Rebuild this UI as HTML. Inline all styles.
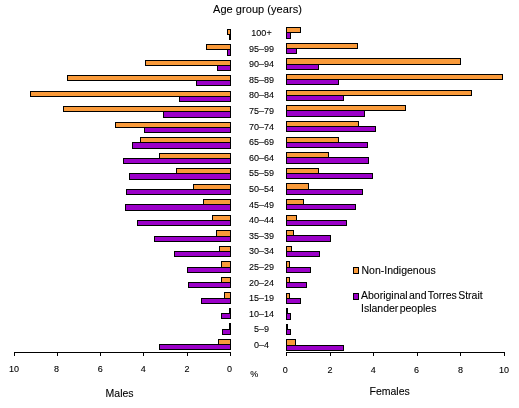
<!DOCTYPE html>
<html><head><meta charset="utf-8"><style>
html,body{margin:0;padding:0;background:#fff;width:519px;height:408px;overflow:hidden}
svg{display:block}
text{font-family:"Liberation Sans",sans-serif;fill:#000;stroke:#000;stroke-width:0.1px}
.s{font-size:9px}
.m{font-size:10.5px}
.w{word-spacing:-1.6px}
.t{font-size:11px;letter-spacing:0.05px}
</style></head><body>
<svg width="519" height="408" viewBox="0 0 519 408" shape-rendering="crispEdges">
<rect x="227.5" y="29.5" width="3" height="5" fill="#F99A3A" stroke="#000"/>
<rect x="229.5" y="34.5" width="1" height="5" fill="#9B00C8" stroke="#000"/>
<rect x="286.5" y="27.5" width="14" height="5" fill="#F99A3A" stroke="#000"/>
<rect x="286.5" y="32.5" width="4" height="6" fill="#9B00C8" stroke="#000"/>
<rect x="206.5" y="44.5" width="24" height="5" fill="#F99A3A" stroke="#000"/>
<rect x="227.5" y="49.5" width="3" height="6" fill="#9B00C8" stroke="#000"/>
<rect x="286.5" y="43.5" width="71" height="5" fill="#F99A3A" stroke="#000"/>
<rect x="286.5" y="48.5" width="10" height="5" fill="#9B00C8" stroke="#000"/>
<rect x="145.5" y="60.5" width="85" height="5" fill="#F99A3A" stroke="#000"/>
<rect x="217.5" y="65.5" width="13" height="5" fill="#9B00C8" stroke="#000"/>
<rect x="286.5" y="58.5" width="174" height="6" fill="#F99A3A" stroke="#000"/>
<rect x="286.5" y="64.5" width="32" height="5" fill="#9B00C8" stroke="#000"/>
<rect x="67.5" y="75.5" width="163" height="5" fill="#F99A3A" stroke="#000"/>
<rect x="196.5" y="80.5" width="34" height="5" fill="#9B00C8" stroke="#000"/>
<rect x="286.5" y="74.5" width="216" height="5" fill="#F99A3A" stroke="#000"/>
<rect x="286.5" y="79.5" width="52" height="5" fill="#9B00C8" stroke="#000"/>
<rect x="30.5" y="91.5" width="200" height="5" fill="#F99A3A" stroke="#000"/>
<rect x="179.5" y="96.5" width="51" height="5" fill="#9B00C8" stroke="#000"/>
<rect x="286.5" y="90.5" width="185" height="5" fill="#F99A3A" stroke="#000"/>
<rect x="286.5" y="95.5" width="57" height="5" fill="#9B00C8" stroke="#000"/>
<rect x="63.5" y="106.5" width="167" height="5" fill="#F99A3A" stroke="#000"/>
<rect x="163.5" y="111.5" width="67" height="6" fill="#9B00C8" stroke="#000"/>
<rect x="286.5" y="105.5" width="119" height="5" fill="#F99A3A" stroke="#000"/>
<rect x="286.5" y="110.5" width="78" height="6" fill="#9B00C8" stroke="#000"/>
<rect x="115.5" y="122.5" width="115" height="5" fill="#F99A3A" stroke="#000"/>
<rect x="144.5" y="127.5" width="86" height="5" fill="#9B00C8" stroke="#000"/>
<rect x="286.5" y="121.5" width="72" height="5" fill="#F99A3A" stroke="#000"/>
<rect x="286.5" y="126.5" width="89" height="5" fill="#9B00C8" stroke="#000"/>
<rect x="140.5" y="137.5" width="90" height="5" fill="#F99A3A" stroke="#000"/>
<rect x="132.5" y="142.5" width="98" height="6" fill="#9B00C8" stroke="#000"/>
<rect x="286.5" y="137.5" width="52" height="5" fill="#F99A3A" stroke="#000"/>
<rect x="286.5" y="142.5" width="81" height="5" fill="#9B00C8" stroke="#000"/>
<rect x="159.5" y="153.5" width="71" height="5" fill="#F99A3A" stroke="#000"/>
<rect x="123.5" y="158.5" width="107" height="5" fill="#9B00C8" stroke="#000"/>
<rect x="286.5" y="152.5" width="42" height="5" fill="#F99A3A" stroke="#000"/>
<rect x="286.5" y="157.5" width="82" height="6" fill="#9B00C8" stroke="#000"/>
<rect x="176.5" y="168.5" width="54" height="5" fill="#F99A3A" stroke="#000"/>
<rect x="129.5" y="173.5" width="101" height="6" fill="#9B00C8" stroke="#000"/>
<rect x="286.5" y="168.5" width="32" height="5" fill="#F99A3A" stroke="#000"/>
<rect x="286.5" y="173.5" width="86" height="5" fill="#9B00C8" stroke="#000"/>
<rect x="193.5" y="184.5" width="37" height="5" fill="#F99A3A" stroke="#000"/>
<rect x="126.5" y="189.5" width="104" height="5" fill="#9B00C8" stroke="#000"/>
<rect x="286.5" y="183.5" width="22" height="6" fill="#F99A3A" stroke="#000"/>
<rect x="286.5" y="189.5" width="76" height="5" fill="#9B00C8" stroke="#000"/>
<rect x="203.5" y="199.5" width="27" height="5" fill="#F99A3A" stroke="#000"/>
<rect x="125.5" y="204.5" width="105" height="6" fill="#9B00C8" stroke="#000"/>
<rect x="286.5" y="199.5" width="17" height="5" fill="#F99A3A" stroke="#000"/>
<rect x="286.5" y="204.5" width="69" height="5" fill="#9B00C8" stroke="#000"/>
<rect x="212.5" y="215.5" width="18" height="5" fill="#F99A3A" stroke="#000"/>
<rect x="137.5" y="220.5" width="93" height="5" fill="#9B00C8" stroke="#000"/>
<rect x="286.5" y="215.5" width="10" height="5" fill="#F99A3A" stroke="#000"/>
<rect x="286.5" y="220.5" width="60" height="5" fill="#9B00C8" stroke="#000"/>
<rect x="216.5" y="230.5" width="14" height="6" fill="#F99A3A" stroke="#000"/>
<rect x="154.5" y="236.5" width="76" height="5" fill="#9B00C8" stroke="#000"/>
<rect x="286.5" y="230.5" width="7" height="5" fill="#F99A3A" stroke="#000"/>
<rect x="286.5" y="235.5" width="44" height="6" fill="#9B00C8" stroke="#000"/>
<rect x="219.5" y="246.5" width="11" height="5" fill="#F99A3A" stroke="#000"/>
<rect x="174.5" y="251.5" width="56" height="5" fill="#9B00C8" stroke="#000"/>
<rect x="286.5" y="246.5" width="5" height="5" fill="#F99A3A" stroke="#000"/>
<rect x="286.5" y="251.5" width="33" height="5" fill="#9B00C8" stroke="#000"/>
<rect x="221.5" y="261.5" width="9" height="6" fill="#F99A3A" stroke="#000"/>
<rect x="187.5" y="267.5" width="43" height="5" fill="#9B00C8" stroke="#000"/>
<rect x="286.5" y="261.5" width="3" height="6" fill="#F99A3A" stroke="#000"/>
<rect x="286.5" y="267.5" width="24" height="5" fill="#9B00C8" stroke="#000"/>
<rect x="221.5" y="277.5" width="9" height="5" fill="#F99A3A" stroke="#000"/>
<rect x="188.5" y="282.5" width="42" height="5" fill="#9B00C8" stroke="#000"/>
<rect x="286.5" y="277.5" width="3" height="5" fill="#F99A3A" stroke="#000"/>
<rect x="286.5" y="282.5" width="20" height="5" fill="#9B00C8" stroke="#000"/>
<rect x="224.5" y="292.5" width="6" height="6" fill="#F99A3A" stroke="#000"/>
<rect x="201.5" y="298.5" width="29" height="5" fill="#9B00C8" stroke="#000"/>
<rect x="286.5" y="293.5" width="3" height="5" fill="#F99A3A" stroke="#000"/>
<rect x="286.5" y="298.5" width="14" height="5" fill="#9B00C8" stroke="#000"/>
<rect x="229.5" y="308.5" width="1" height="5" fill="#F99A3A" stroke="#000"/>
<rect x="221.5" y="313.5" width="9" height="5" fill="#9B00C8" stroke="#000"/>
<rect x="286.5" y="308.5" width="1" height="5" fill="#F99A3A" stroke="#000"/>
<rect x="286.5" y="313.5" width="4" height="6" fill="#9B00C8" stroke="#000"/>
<rect x="229.5" y="323.5" width="1" height="6" fill="#F99A3A" stroke="#000"/>
<rect x="222.5" y="329.5" width="8" height="5" fill="#9B00C8" stroke="#000"/>
<rect x="286.5" y="324.5" width="1" height="5" fill="#F99A3A" stroke="#000"/>
<rect x="286.5" y="329.5" width="4" height="5" fill="#9B00C8" stroke="#000"/>
<rect x="218.5" y="339.5" width="12" height="5" fill="#F99A3A" stroke="#000"/>
<rect x="159.5" y="344.5" width="71" height="5" fill="#9B00C8" stroke="#000"/>
<rect x="286.5" y="339.5" width="9" height="6" fill="#F99A3A" stroke="#000"/>
<rect x="286.5" y="345.5" width="57" height="5" fill="#9B00C8" stroke="#000"/>
<path d="M14.5 352.5H230.5M286.5 352.5H504.5" stroke="#000" fill="none"/>
<path d="M14.5 352V356M57.5 352V356M100.5 352V356M143.5 352V356M187.5 352V356M230.5 352V356M286.5 352V356M330.5 352V356M373.5 352V356M417.5 352V356M460.5 352V356M504.5 352V356" stroke="#000" fill="none"/>
</svg>
<svg width="519" height="408" viewBox="0 0 519 408" style="position:absolute;left:0;top:0;will-change:transform">
<text x="261.5" y="36.0" text-anchor="middle" class="s">100+</text>
<text x="261.5" y="51.6" text-anchor="middle" class="s">95–99</text>
<text x="261.5" y="67.2" text-anchor="middle" class="s">90–94</text>
<text x="261.5" y="82.8" text-anchor="middle" class="s">85–89</text>
<text x="261.5" y="98.4" text-anchor="middle" class="s">80–84</text>
<text x="261.5" y="114.0" text-anchor="middle" class="s">75–79</text>
<text x="261.5" y="129.6" text-anchor="middle" class="s">70–74</text>
<text x="261.5" y="145.2" text-anchor="middle" class="s">65–69</text>
<text x="261.5" y="160.8" text-anchor="middle" class="s">60–64</text>
<text x="261.5" y="176.4" text-anchor="middle" class="s">55–59</text>
<text x="261.5" y="192.0" text-anchor="middle" class="s">50–54</text>
<text x="261.5" y="207.6" text-anchor="middle" class="s">45–49</text>
<text x="261.5" y="223.2" text-anchor="middle" class="s">40–44</text>
<text x="261.5" y="238.8" text-anchor="middle" class="s">35–39</text>
<text x="261.5" y="254.4" text-anchor="middle" class="s">30–34</text>
<text x="261.5" y="270.0" text-anchor="middle" class="s">25–29</text>
<text x="261.5" y="285.6" text-anchor="middle" class="s">20–24</text>
<text x="261.5" y="301.2" text-anchor="middle" class="s">15–19</text>
<text x="261.5" y="316.8" text-anchor="middle" class="s">10–14</text>
<text x="261.5" y="332.4" text-anchor="middle" class="s">5–9</text>
<text x="261.5" y="348.0" text-anchor="middle" class="s">0–4</text>
<text x="14" y="372" text-anchor="middle" class="s">10</text>
<text x="56.6" y="372" text-anchor="middle" class="s">8</text>
<text x="100.3" y="372" text-anchor="middle" class="s">6</text>
<text x="143.3" y="372" text-anchor="middle" class="s">4</text>
<text x="187" y="372" text-anchor="middle" class="s">2</text>
<text x="229.5" y="372" text-anchor="middle" class="s">0</text>
<text x="285.3" y="373" text-anchor="middle" class="s">0</text>
<text x="330.1" y="373" text-anchor="middle" class="s">2</text>
<text x="373.2" y="373" text-anchor="middle" class="s">4</text>
<text x="416.6" y="373" text-anchor="middle" class="s">6</text>
<text x="460.4" y="373" text-anchor="middle" class="s">8</text>
<text x="504" y="373" text-anchor="middle" class="s">10</text>
<text x="254.3" y="377" text-anchor="middle" class="s">%</text>
<text x="105.6" y="397" class="m">Males</text>
<text x="369.5" y="395" class="m">Females</text>
<text x="213" y="13" class="t">Age group (years)</text>
<rect x="353.5" y="267.5" width="5" height="6" fill="#F99A3A" stroke="#000"/>
<rect x="353.5" y="293.5" width="5" height="6" fill="#9B00C8" stroke="#000"/>
<text x="361.5" y="274" class="m">Non-Indigenous</text>
<text x="361" y="299" class="m w">Aboriginal and Torres Strait</text>
<text x="361" y="312" class="m w">Islander peoples</text>
</svg>
</body></html>
